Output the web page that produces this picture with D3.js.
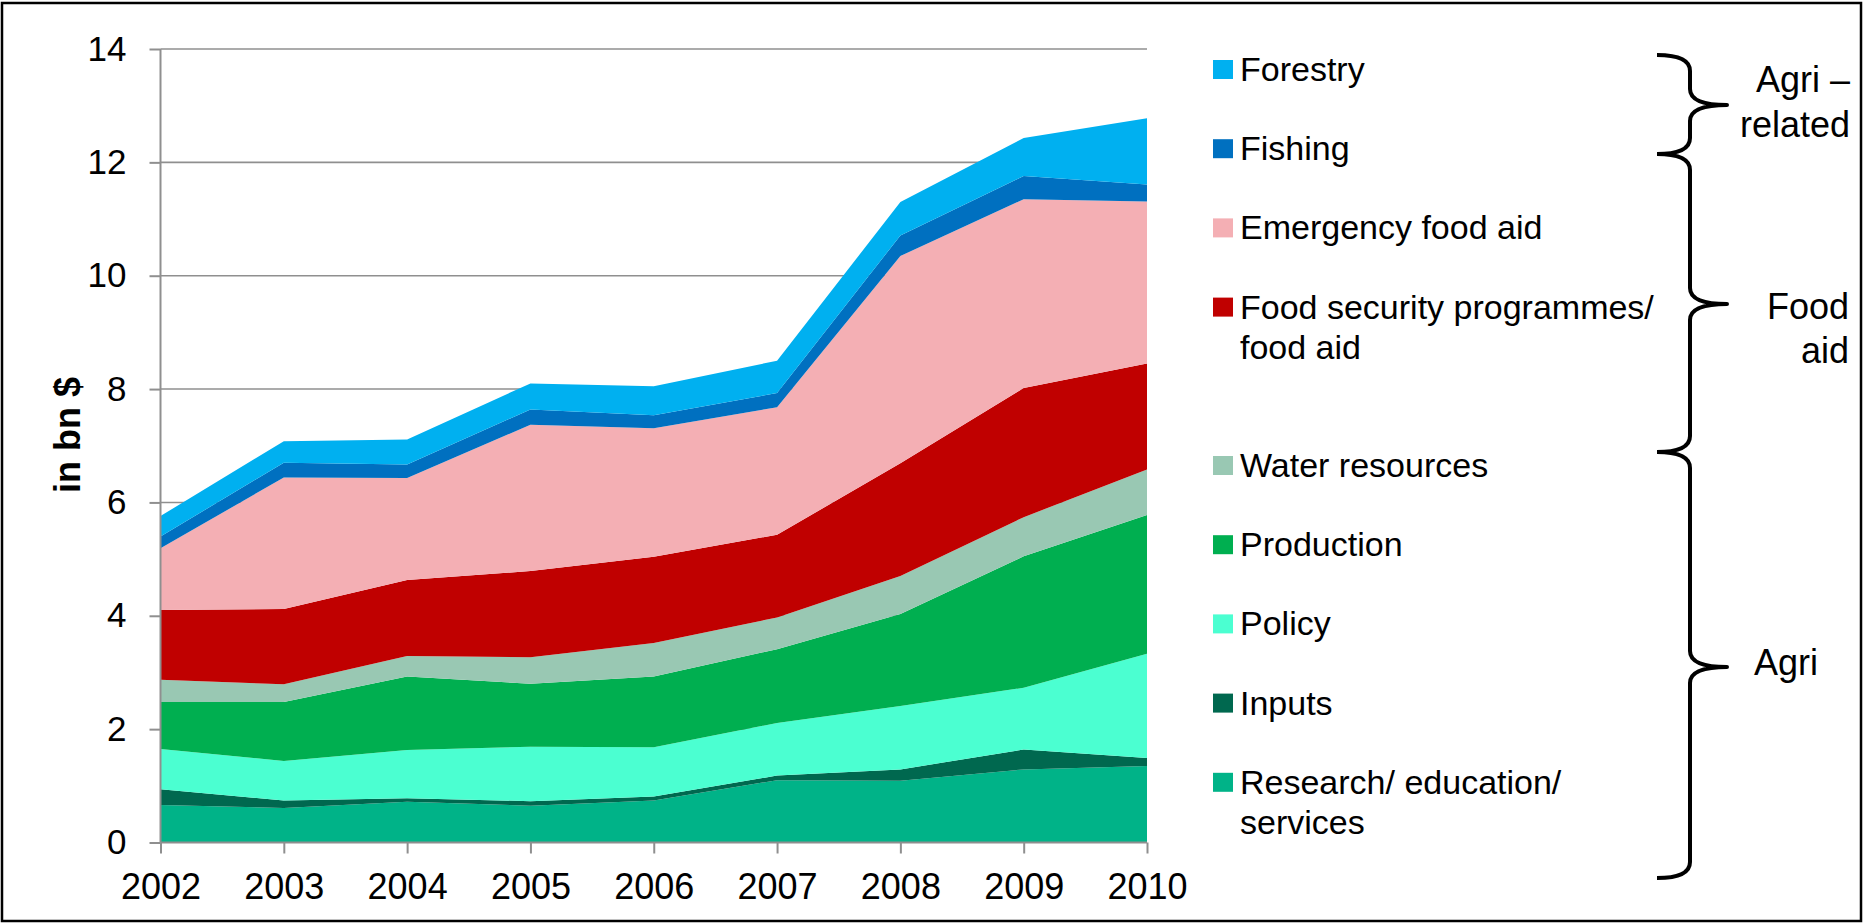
<!DOCTYPE html>
<html>
<head>
<meta charset="utf-8">
<script src="https://cdn.jsdelivr.net/npm/d3@7"></script>
<style>
  html, body { margin: 0; padding: 0; background: #fff; }
  svg { display: block; font-family: "Liberation Sans", Arial, sans-serif; }
</style>
</head>
<body>
<svg id="chart" width="1865" height="923"></svg>
<script>
// Aid to agriculture and food, in bn $
const years = [2002, 2003, 2004, 2005, 2006, 2007, 2008, 2009, 2010];

const research   = [0.66, 0.61, 0.72, 0.65, 0.74, 1.10, 1.09, 1.29, 1.35];
const inputs     = [0.28, 0.13, 0.06, 0.08, 0.07, 0.08, 0.20, 0.35, 0.14];
const policy     = [0.71, 0.70, 0.85, 0.96, 0.87, 0.93, 1.12, 1.09, 1.84];
const production = [0.83, 1.04, 1.30, 1.11, 1.25, 1.30, 1.62, 2.32, 2.45];
const water      = [0.39, 0.31, 0.36, 0.47, 0.59, 0.56, 0.67, 0.69, 0.80];
const foodSec    = [1.23, 1.33, 1.34, 1.52, 1.52, 1.46, 1.99, 2.28, 1.87];
const emergency  = [1.09, 2.32, 1.80, 2.58, 2.27, 2.25, 3.66, 3.33, 2.86];
const fishing    = [0.21, 0.26, 0.24, 0.27, 0.23, 0.25, 0.36, 0.41, 0.30];
const forestry   = [0.36, 0.38, 0.44, 0.46, 0.51, 0.57, 0.59, 0.67, 1.17];

const yTicks = [0, 2, 4, 6, 8, 10, 12, 14];

// series from bottom of the stack to the top
const seriesKeys   = ["research", "inputs", "policy", "production", "water", "foodSec", "emergency", "fishing", "forestry"];
const seriesValues = [research, inputs, policy, production, water, foodSec, emergency, fishing, forestry];
const seriesNames  = [
  ["Research/ education/", "services"],
  ["Inputs"],
  ["Policy"],
  ["Production"],
  ["Water resources"],
  ["Food security programmes/", "food aid"],
  ["Emergency food aid"],
  ["Fishing"],
  ["Forestry"]
];
const seriesColors = ["#00B388", "#00684F", "#4BFFD1", "#00AF50", "#99C8B3", "#C00000", "#F4AFB4", "#0070C0", "#00B0F0"];

const svg = d3.select("#chart");

// outer frame
svg.append("rect")
  .attr("x", 2).attr("y", 3).attr("width", 1859).attr("height", 918)
  .attr("fill", "none").attr("stroke", "#000").attr("stroke-width", 2.5);

const x = d3.scalePoint().domain(years).range([160.5, 1147]);
const y = d3.scaleLinear().domain([0, 14]).range([842.5, 49]);

// gridlines
svg.append("g")
  .selectAll("line")
  .data(yTicks.filter(d => d > 0))
  .join("line")
  .attr("x1", 160.5).attr("x2", 1147)
  .attr("y1", d => y(d)).attr("y2", d => y(d))
  .attr("stroke", "#8f8f8f").attr("stroke-width", 1.6);

// stacked areas
const table = years.map((yr, i) => {
  const row = { year: yr };
  seriesKeys.forEach((k, j) => { row[k] = seriesValues[j][i]; });
  return row;
});
const stacked = d3.stack().keys(seriesKeys)(table);

const area = d3.area()
  .x(d => x(d.data.year))
  .y0(d => y(d[0]))
  .y1(d => y(d[1]));

svg.append("g")
  .selectAll("path")
  .data(stacked)
  .join("path")
  .attr("d", area)
  .attr("fill", (d, i) => seriesColors[i]);

// axes
const yAxis = d3.axisLeft(y).tickValues(yTicks).tickSize(11).tickPadding(23).tickFormat(d3.format("d"));
const gy = svg.append("g").attr("transform", "translate(160.5,0)").call(yAxis);
const xAxis = d3.axisBottom(x).tickSize(11).tickPadding(20).tickFormat(d3.format("d"));
const gx = svg.append("g").attr("transform", "translate(0,842.5)").call(xAxis);

[gy, gx].forEach(g => {
  g.selectAll(".domain").attr("stroke", "#8f8f8f").attr("stroke-width", 2);
  g.selectAll(".tick line").attr("stroke", "#8f8f8f").attr("stroke-width", 2);
  g.selectAll("text").attr("fill", "#000").attr("font-family", "Liberation Sans, Arial, sans-serif");
});
gy.selectAll("text").attr("font-size", 35);
gx.selectAll("text").attr("font-size", 36);
// horizontal domain path of y axis has outer ticks: keep them hidden
gy.select(".domain").attr("d", `M0,${y(14)}V${y(0)}`);
gx.select(".domain").attr("d", `M${x(2002)},0H${x(2010)}`);

// y axis title
svg.append("text")
  .attr("transform", "translate(80,435) rotate(-90)")
  .attr("text-anchor", "middle")
  .attr("font-size", 36).attr("font-weight", "bold")
  .text("in bn $");

// legend, top entry = top of the stack
const legendOrder = d3.range(seriesKeys.length).reverse();
const slotTop = 69.5, slotStep = 79.2;
let slot = 0;
const legend = svg.append("g");
legendOrder.forEach(i => {
  const cy = slotTop + slot * slotStep;
  legend.append("rect")
    .attr("x", 1213).attr("y", cy - 9.5).attr("width", 20).attr("height", 19)
    .attr("fill", seriesColors[i]);
  seriesNames[i].forEach((line, k) => {
    legend.append("text")
      .attr("x", 1240).attr("y", cy + 11.5 + k * 40.5)
      .attr("font-size", 34)
      .text(line);
  });
  slot += seriesNames[i].length > 1 && i !== 0 ? 2 : 1;
});

// group braces
function brace(y0, ym, y1, spine, end, tip) {
  const r = 16;
  return `M${end},${y0} Q${spine},${y0} ${spine},${y0 + r} L${spine},${ym - r} Q${spine},${ym} ${tip},${ym}` +
         ` Q${spine},${ym} ${spine},${ym + r} L${spine},${y1 - r} Q${spine},${y1} ${end},${y1}`;
}
const braces = [
  { y0: 55, ym: 105, y1: 154 },
  { y0: 154, ym: 304, y1: 452 },
  { y0: 452, ym: 667, y1: 878 }
];
svg.append("g")
  .selectAll("path")
  .data(braces)
  .join("path")
  .attr("d", d => brace(d.y0, d.ym, d.y1, 1690, 1657, 1727))
  .attr("fill", "none").attr("stroke", "#000").attr("stroke-width", 4)
  .attr("stroke-linejoin", "round");

// group labels
const groupLabels = [
  { text: "Agri \u2013", x: 1850, y: 91.7, anchor: "end" },
  { text: "related", x: 1850, y: 136.7, anchor: "end" },
  { text: "Food", x: 1849, y: 319.3, anchor: "end" },
  { text: "aid", x: 1849, y: 363.3, anchor: "end" },
  { text: "Agri", x: 1754, y: 675, anchor: "start" }
];
svg.append("g")
  .selectAll("text")
  .data(groupLabels)
  .join("text")
  .attr("x", d => d.x).attr("y", d => d.y)
  .attr("text-anchor", d => d.anchor)
  .attr("font-size", 36)
  .text(d => d.text);
</script>
</body>
</html>
